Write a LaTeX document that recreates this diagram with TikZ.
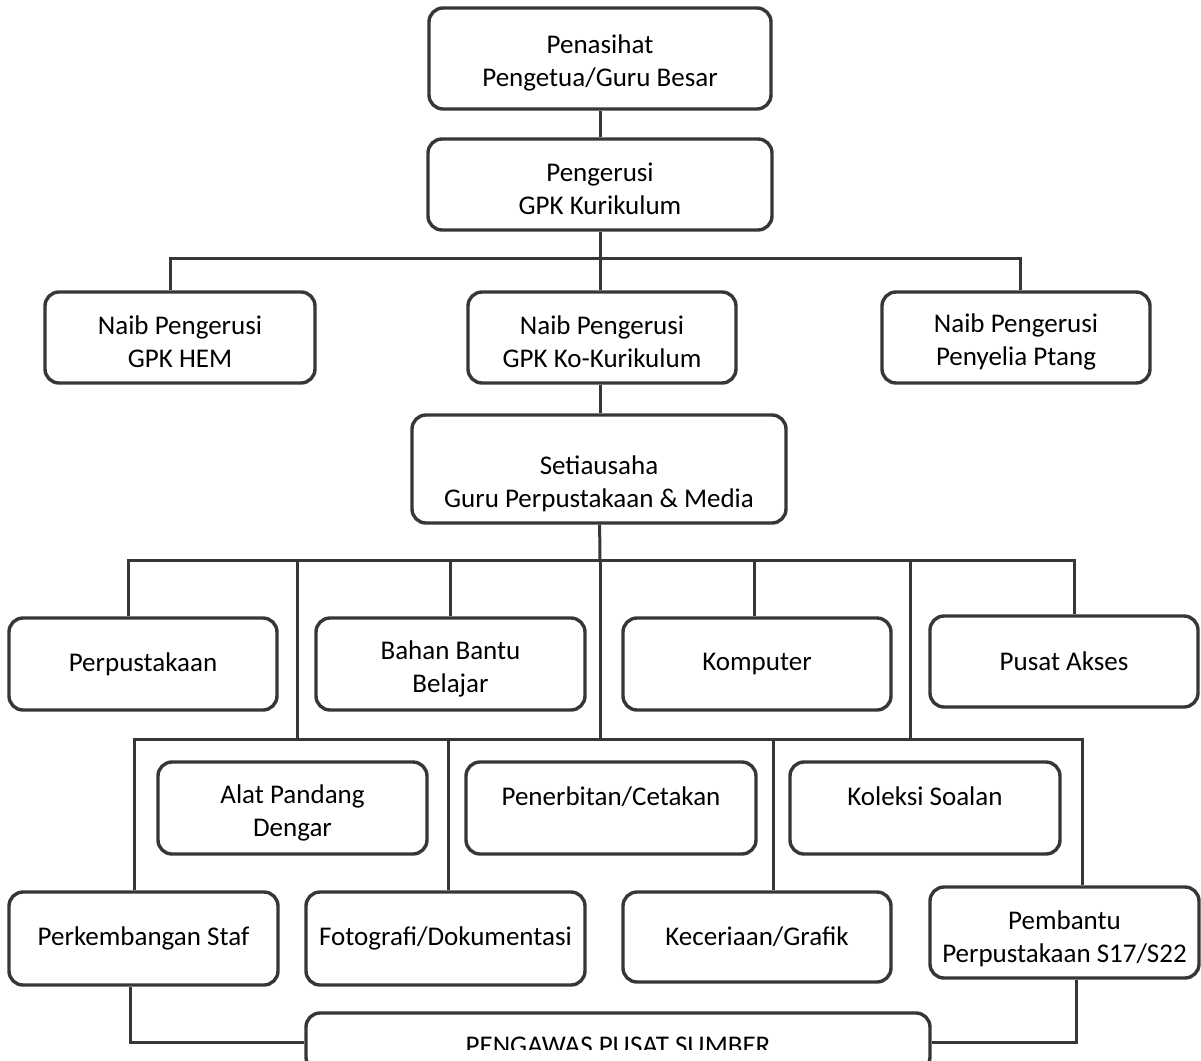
\documentclass[tikz,border=0pt]{standalone}
\usepackage{fontspec}
\setmainfont{Carlito}
\usepackage{tikz}
\definecolor{ink}{HTML}{363636}
\newcommand{\lift}{\rule{0pt}{14pt}}

\begin{document}
\begin{tikzpicture}[x=0.5pt,y=-0.5pt,line width=1.5pt,draw=ink]
  \tikzstyle{box}=[draw=ink,line width=1.7pt,rounded corners=7pt,align=center,
                   inner sep=1pt,font=\fontsize{13.5}{16.5}\selectfont]
  \tikzstyle{bus}=[draw=ink,line width=1.5pt]

  \useasboundingbox (0,0) rectangle (1201,1061);
  \clip (0,0) rectangle (1201,1061);

  % pimpinan
  \node[box,minimum width=171pt,minimum height=50.5pt]  (pen) at (600,58.5)   {\lift Penasihat\\Pengetua/Guru Besar};
  \node[box,minimum width=172pt,minimum height=45.5pt]  (ger) at (600,184.5)  {\lift Pengerusi\\GPK Kurikulum};
  \node[box,minimum width=135pt,minimum height=45.5pt]  (hem) at (180,337.5)  {\lift Naib Pengerusi\\GPK HEM};
  \node[box,minimum width=134pt,minimum height=45.5pt]  (kok) at (602,337.5)  {\lift Naib Pengerusi\\GPK Ko-Kurikulum};
  \node[box,minimum width=134pt,minimum height=45.5pt]  (pty) at (1016,337.5) {\lift Naib Pengerusi\\Penyelia Ptang};
  \node[box,minimum width=187pt,minimum height=54pt]    (set) at (599,469)    {\rule{0pt}{24pt}Setiausaha\\Guru Perpustakaan \& Media};

  % unit
  \node[box,minimum width=134pt,minimum height=46pt]    (per) at (143,664)    {Perpustakaan};
  \node[box,minimum width=134.5pt,minimum height=46pt]  (bbb) at (450.5,664)  {\lift Bahan Bantu\\Belajar};
  \node[box,minimum width=134pt,minimum height=46pt]    (kom) at (757,664)    {Komputer};
  \node[box,minimum width=134pt,minimum height=45.5pt]  (pak) at (1064,661.5) {Pusat Akses};
  \node[box,minimum width=134.5pt,minimum height=46pt]  (apd) at (292.5,808)  {\lift Alat Pandang\\Dengar};
  \node[box,minimum width=145pt,minimum height=46pt]    (pct) at (611,808)    {\lift Penerbitan/Cetakan\\\mbox{}};
  \node[box,minimum width=135pt,minimum height=46pt]    (kso) at (925,808)    {\lift Koleksi Soalan\\\mbox{}};
  \node[box,minimum width=134.5pt,minimum height=46.5pt](stf) at (143.5,938.5){Perkembangan Staf};
  \node[box,minimum width=139.5pt,minimum height=46.5pt](fot) at (445.5,938.5){Fotografi/Dokumentasi};
  \node[box,minimum width=134pt,minimum height=45pt]    (kcg) at (757,937)    {Keceriaan/Grafik};
  \node[box,minimum width=134.5pt,minimum height=45.5pt](pmb) at (1064.5,932.5){\rule{0pt}{16pt}Pembantu\\Perpustakaan S17/S22};
  \node[box,minimum width=312pt,minimum height=29pt]    (pps) at (618,1042)   {};
  \begin{scope}
    \clip (306,1013) rectangle (930,1049);
    \node[font=\fontsize{13.5}{16.5}\selectfont] (ppst) at ([yshift=-2pt]pps.center) {PENGAWAS PUSAT SUMBER};
  \end{scope}

  \coordinate (b1) at (600,258);
  \coordinate (b2) at (600,560);
  \coordinate (j1) at (297,560);
  \coordinate (j3) at (910,560);
  \coordinate (k1) at (297,739);
  \coordinate (k2) at (600,739);
  \coordinate (k3) at (910,739);

  \draw[bus] (pen) -- (ger);
  \draw[bus] (ger.south) -- (ger.south |- kok.north);
  \draw[bus] ([xshift=-5pt]hem.north) |- (b1) -| ([xshift=2pt]pty.north);
  \draw[bus] (ger.south |- kok.south) -- (ger.south |- set.north);

  \draw[bus] (set) -- (b2);
  \draw[bus] ([xshift=-7.5pt]per.north) |- (b2) -| ([xshift=5pt]pak.north);
  \draw[bus] (bbb.north) -- (bbb.north |- b2);
  \draw[bus] ([xshift=-1.5pt]kom.north) -- ([xshift=-1.5pt]kom.north |- b2);
  \draw[bus] (j1) -- (k1);
  \draw[bus] (b2) -- (k2);
  \draw[bus] (j3) -- (k3);

  \draw[bus] ([xshift=-4.75pt]stf.north) |- (k2) -| ([xshift=8.75pt]pmb.north);
  \draw[bus] ([xshift=1.25pt]fot.north) -- ([xshift=1.25pt]fot.north |- k2);
  \draw[bus] ([xshift=8pt]kcg.north) -- ([xshift=8pt]kcg.north |- k2);

  \draw[bus] ([xshift=-6.75pt]stf.south) |- (pps.west);
  \draw[bus] ([xshift=5.75pt]pmb.south) |- (pps.east);
\end{tikzpicture}
\end{document}
